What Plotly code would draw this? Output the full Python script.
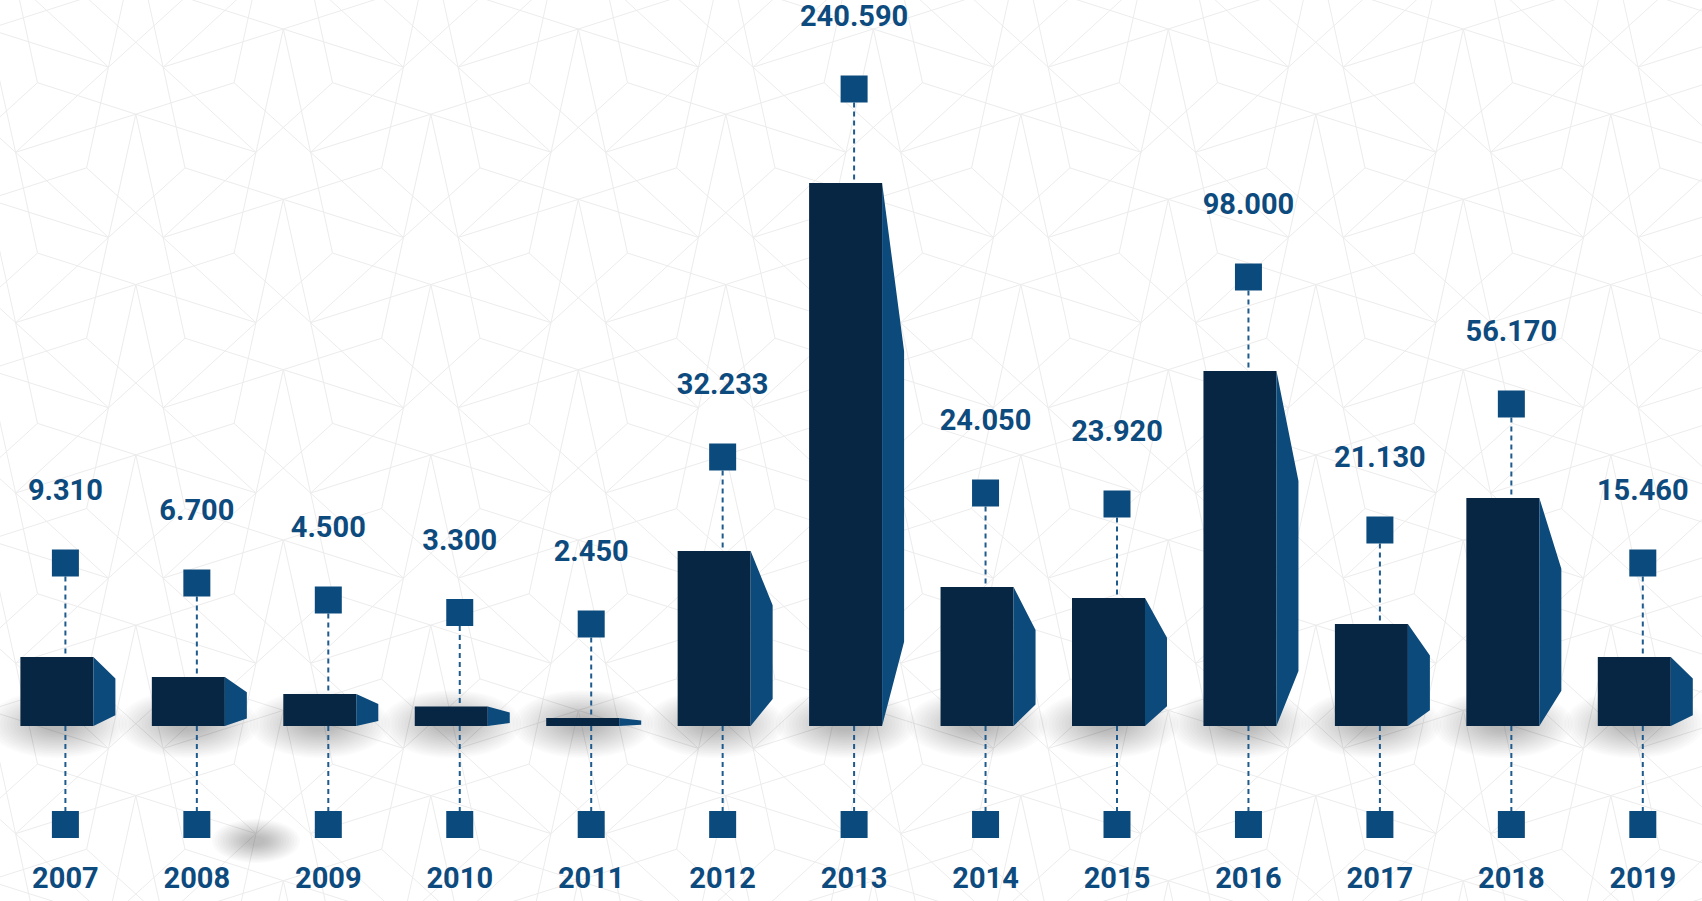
import plotly.graph_objects as go

years = [2007, 2008, 2009, 2010, 2011, 2012, 2013, 2014, 2015, 2016, 2017, 2018, 2019]
values = [9310, 6700, 4500, 3300, 2450, 32233, 240590, 24050, 23920, 98000, 21130, 56170, 15460]
# bar heights as drawn in the source graphic (not proportional to the values)
bar_heights = [69, 49, 32, 19.5, 8, 175, 543, 139, 128, 355, 102, 228, 69]

value_labels = [f"{v:,}".replace(",", ".") for v in values]
year_labels = [str(y) for y in years]

W, H = 1702, 901
BASELINE = 726          # px from the top of the page
PX_PER_YEAR = 131.45
FIRST_CENTER = 65.4     # px of the first guide line

NAVY = "#062644"
SIDE = "#0c4a7c"
BLUE = "#0a4a7c"
TEXT = "#0d4b7e"
DASH = "#1f5a8c"
FONT = "Roboto"

FRONT_OFF, FRONT_W, SIDE_W = -45, 73, 22
SQUARE = 27
SQ_GAP = 94             # bar top -> top square centre
LABEL_GAP = 70          # top square centre -> value label
BOTTOM_SQ = -98.5
YEAR_Y = -155


def dx(px):
    return px / PX_PER_YEAR


x_left = years[0] - dx(FIRST_CENTER)
x_range = [x_left, x_left + dx(W)]
y_range = [BASELINE - H, BASELINE]


def background_path():
    """Faint star/pentagon lattice drawn behind the chart (px coordinates)."""
    ax, ay = 283.3, 29.0
    ux = 295.0
    vx, vy = 147.5, 85.17
    qx, qy = 27.3, 123.3
    rx, ry = 49.2, 53.7

    def star(i, j):
        return (ax + i * ux + j * vx, ay + j * vy)

    def off(p, ox, oy):
        return (p[0] + ox, p[1] + oy)

    parts = []
    for j in range(-4, 14):
        i_lo = int((-600 - ax - j * vx) // ux)
        i_hi = int((W + 600 - ax - j * vx) // ux) + 1
        for i in range(i_lo, i_hi + 1):
            s = star(i, j)
            ul = star(i, j - 1)
            ur = star(i + 1, j - 1)
            dn = star(i - 1, j + 2)
            q1, q2 = off(s, -qx, qy), off(s, qx, qy)
            r1, r2 = off(s, -rx, ry), off(s, rx, ry)
            edges = [
                (s, q1), (s, q2),
                (s, off(ul, qx, qy)), (s, off(ur, -qx, qy)),
                (s, off(ul, rx, ry)), (s, off(ur, -rx, ry)),
                (r1, q2), (r2, q1),
                (q1, off(dn, -rx, ry)), (q2, off(dn, rx, ry)),
                (off(ul, qx, qy), q1), (off(ur, -qx, qy), q2),
            ]
            for a, b in edges:
                if max(a[0], b[0]) < -5 or min(a[0], b[0]) > W + 5:
                    continue
                if max(a[1], b[1]) < -5 or min(a[1], b[1]) > H + 5:
                    continue
                parts.append(
                    f"M{a[0] / W:.5f},{1 - a[1] / H:.5f} L{b[0] / W:.5f},{1 - b[1] / H:.5f}"
                )
    return " ".join(parts)


def soft_blob(cx, cy, rx_px, ry_px, layers=18, alpha=0.016):
    out = []
    for k in range(layers):
        s = 1 - k * (0.85 / layers)
        out.append(dict(
            type="circle", xref="x", yref="y", layer="below",
            x0=cx - dx(rx_px * s), x1=cx + dx(rx_px * s),
            y0=cy - ry_px * s, y1=cy + ry_px * s,
            fillcolor=f"rgba(0,0,0,{alpha})", line=dict(width=0),
        ))
    return out


shapes = [
    dict(type="path", path=background_path(), xref="paper", yref="paper",
         line=dict(color="#ececec", width=1), layer="below")
]

# soft shadows under the bars
for yr in years:
    shapes += soft_blob(yr + dx(FRONT_OFF + FRONT_W / 2), 2, 70, 34)
# stray blur between the 2008 and 2009 markers
shapes += soft_blob(years[1] + 0.45, -115, 44, 22, layers=14, alpha=0.018)

fig = go.Figure()

# front faces
fig.add_trace(go.Bar(
    x=years, y=bar_heights, width=dx(FRONT_W), offset=dx(FRONT_OFF),
    marker=dict(color=NAVY, line=dict(width=0)), hoverinfo="skip",
))

# side faces
sx, sy = [], []
for yr, h in zip(years, bar_heights):
    xr = yr + dx(FRONT_OFF + FRONT_W)
    xs = xr + dx(SIDE_W)
    sx += [xr, xs, xs, xr, xr, None]
    sy += [h, 0.69 * h, 0.155 * h, 0, h, None]
fig.add_trace(go.Scatter(
    x=sx, y=sy, mode="lines", fill="toself", fillcolor=SIDE,
    line=dict(width=0, color=SIDE), hoverinfo="skip",
))

# dashed guide lines (split so they stay behind the bars)
lx, ly = [], []
for yr, h in zip(years, bar_heights):
    lx += [yr, yr, None, yr, yr, None]
    ly += [h + SQ_GAP - SQUARE / 2, h, None, 0, BOTTOM_SQ + SQUARE / 2, None]
fig.add_trace(go.Scatter(
    x=lx, y=ly, mode="lines",
    line=dict(color=DASH, width=2, dash="5px,4px"), hoverinfo="skip",
))

# squares above and below
fig.add_trace(go.Scatter(
    x=years + years,
    y=[h + SQ_GAP for h in bar_heights] + [BOTTOM_SQ] * len(years),
    mode="markers",
    marker=dict(symbol="square", size=SQUARE, color=BLUE, line=dict(width=0)),
    hoverinfo="skip",
))

# value labels
fig.add_trace(go.Scatter(
    x=years, y=[h + SQ_GAP + LABEL_GAP for h in bar_heights],
    mode="text", text=value_labels, textposition="middle center",
    textfont=dict(family=FONT, size=29, color=TEXT, weight=700),
    hoverinfo="skip",
))

# year labels
fig.add_trace(go.Scatter(
    x=years, y=[YEAR_Y] * len(years),
    mode="text", text=year_labels, textposition="middle center",
    textfont=dict(family=FONT, size=29, color=TEXT, weight=700),
    hoverinfo="skip",
))

fig.update_layout(
    width=W, height=H,
    margin=dict(l=0, r=0, t=0, b=0),
    paper_bgcolor="white", plot_bgcolor="rgba(0,0,0,0)",
    showlegend=False,
    shapes=shapes,
    xaxis=dict(range=x_range, visible=False, fixedrange=True),
    yaxis=dict(range=y_range, visible=False, fixedrange=True),
)

fig.write_html(
    "out.html",
    config={"displayModeBar": False},
    post_script="document.body.style.margin='0';document.body.style.overflow='hidden';",
)
